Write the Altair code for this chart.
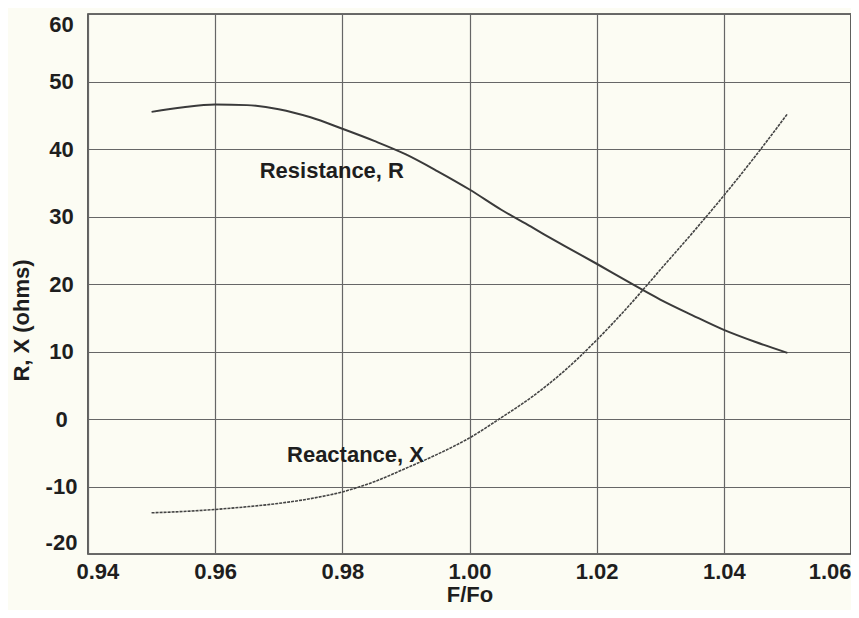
import altair as alt
import pandas as pd

# ---- data ----
freq = [0.950, 0.955, 0.960, 0.965, 0.970, 0.975, 0.980, 0.985, 0.990, 0.995,
        1.000, 1.005, 1.010, 1.015, 1.020, 1.025, 1.030, 1.035, 1.040, 1.045, 1.050]
resistance = [45.5, 46.2, 46.6, 46.5, 45.9, 44.7, 43.0, 41.2, 39.2, 36.7,
              34.0, 31.0, 28.3, 25.6, 23.0, 20.3, 17.7, 15.4, 13.2, 11.4, 9.8]
reactance = [-13.9, -13.7, -13.4, -13.0, -12.5, -11.8, -10.8, -9.3, -7.3, -5.2,
             -2.8, 0.2, 3.4, 7.2, 11.7, 16.7, 22.1, 27.5, 33.1, 39.0, 45.2]

x_ticks = [0.94, 0.96, 0.98, 1.00, 1.02, 1.04, 1.06]
y_ticks = [-20, -10, 0, 10, 20, 30, 40, 50, 60]

label_text = ["Resistance, R", "Reactance, X"]
label_x = [0.967, 0.9713]
label_y = [36.7, -5.4]

FONT = "Liberation Sans"
INK = "#1e1e1e"
GRID = "#666666"
BG = "#fcfcf3"

res_df = pd.DataFrame({"F": freq, "val": resistance})
rea_df = pd.DataFrame({"F": freq, "val": reactance})
lab_df = pd.DataFrame({"F": label_x, "val": label_y, "txt": label_text})

xscale = alt.Scale(domain=[0.94, 1.06], nice=False, zero=False)
yscale = alt.Scale(domain=[-20, 60], nice=False, zero=False)

xaxis = alt.Axis(
    values=x_ticks, format=".2f", title="F/Fo", grid=True, ticks=False, domain=False,
    labelFlush=True,
    labelOffset={"condition": {"test": "datum.value < 0.945", "value": -12}, "value": 0},
    labelPadding=7, titlePadding=2,
)
yaxis = alt.Axis(
    values=y_ticks, labelExpr="'' + datum.value", title="R, X (ohms)", grid=True,
    ticks=False, domain=False,
    labelFlush=True, labelAlign="center", labelPadding=27,
    titleX=-55, titleY=306,
)

res_line = alt.Chart(res_df).mark_line(
    color="#3a3a3a", strokeWidth=2, interpolate="monotone"
).encode(
    x=alt.X("F:Q", scale=xscale, axis=xaxis),
    y=alt.Y("val:Q", scale=yscale, axis=yaxis),
)

rea_line = alt.Chart(rea_df).mark_line(
    color="#444444", strokeWidth=1.6, strokeDash=[3, 1], interpolate="monotone"
).encode(
    x=alt.X("F:Q", scale=xscale),
    y=alt.Y("val:Q", scale=yscale),
)

labels = alt.Chart(lab_df).mark_text(
    align="left", baseline="middle", font=FONT, fontSize=22, fontWeight="bold", color=INK
).encode(
    x=alt.X("F:Q", scale=xscale),
    y=alt.Y("val:Q", scale=yscale),
    text="txt:N",
)

chart = alt.layer(res_line, rea_line, labels).properties(
    width=763,
    height=540,
    autosize=alt.AutoSizeParams(type="none"),
    padding={"left": 80, "top": 6, "right": 0, "bottom": 56},
    background=BG,
).configure_view(
    stroke="#3a3a3a", strokeWidth=1.6, fill=BG
).configure_axis(
    labelFont=FONT, labelFontSize=22, labelFontWeight="bold", labelColor=INK,
    titleFont=FONT, titleFontSize=22, titleFontWeight="bold", titleColor=INK,
    gridColor=GRID, gridWidth=1.2, gridOpacity=1,
)

chart.save("out.html", embed_options={"renderer": "svg", "actions": False})
